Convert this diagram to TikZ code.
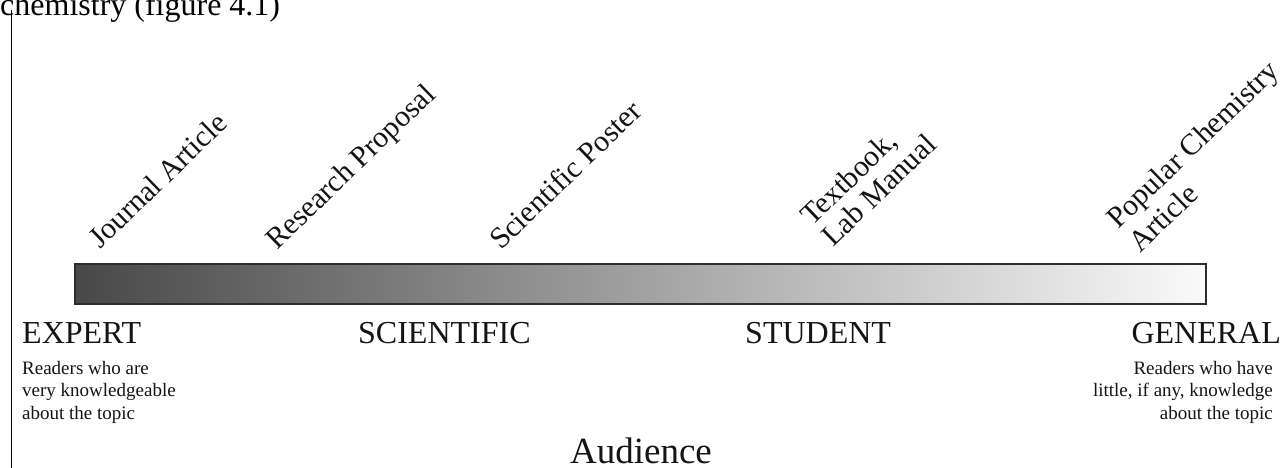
\documentclass[tikz,border=0pt]{standalone}
\usepackage{fontspec}
\setmainfont{Liberation Serif}
\definecolor{ink}{RGB}{20,20,20}
\definecolor{barleft}{RGB}{72,72,72}
\definecolor{barright}{RGB}{250,250,250}
\definecolor{barline}{RGB}{45,45,45}
\tikzset{
  genre/.style={anchor=base west, rotate=44, inner sep=0pt, text=ink,
    font=\fontsize{30}{34}\selectfont},
  level/.style={inner sep=0pt, text=ink, font=\fontsize{32}{36}\selectfont},
  gloss/.style={inner sep=0pt, text=ink, font=\fontsize{19}{22.5}\selectfont},
}
\begin{document}
\begin{tikzpicture}[x=1pt,y=-1pt]
\useasboundingbox (0,0) rectangle (1285,468);
% running text above the figure
\node[anchor=base west, inner sep=0pt, font=\fontsize{32}{36}\selectfont] (run) at (0,16) {chemistry (figure 4.1)};
% margin rule
\coordinate (ruletop) at (11.5,10);
\coordinate (rulebot) at (11.5,470);
\draw[line width=1.4pt, black] (ruletop) -- (rulebot);
% audience scale bar
\shade[left color=barleft, right color=barright] (74,263) rectangle (1205,303);
\node[draw=barline, line width=2pt, inner sep=0pt, minimum width=1131pt, minimum height=40pt, anchor=north west] (bar) at (74,263) {};
% genres along the scale
\node[genre] (journal) at (100,250) {Journal Article};
\node[genre] (proposal) at (277,251) {Research Proposal};
\node[genre] (poster) at (501,251) {Scientific Poster};
\node[genre] (textbook) at (812,227) {Textbook,};
\node[genre] (labman) at (833,248) {Lab Manual};
\node[genre] (popular) at (1118,230) {Popular Chemistry};
\node[genre] (popart) at (1140,254) {Article};
% audience levels
\node[level, anchor=base west] (expert) at (22,343) {EXPERT};
\node[level, anchor=base west] (scientific) at (358,343) {SCIENTIFIC};
\node[level, anchor=base west] (student) at (745,343) {STUDENT};
\node[level, anchor=base east] (general) at (1281,343) {GENERAL};
\node[gloss, anchor=north west, align=left] (expertnote) at (22,361) {Readers who are\\very knowledgeable\\about the topic};
\node[gloss, anchor=north east, align=right] (generalnote) at (1273,361) {Readers who have\\little, if any, knowledge\\about the topic};
% axis title
\node[anchor=base, inner sep=0pt, text=ink, font=\fontsize{37}{40}\selectfont] (audience) at (641,463) {Audience};
\end{tikzpicture}
\end{document}
